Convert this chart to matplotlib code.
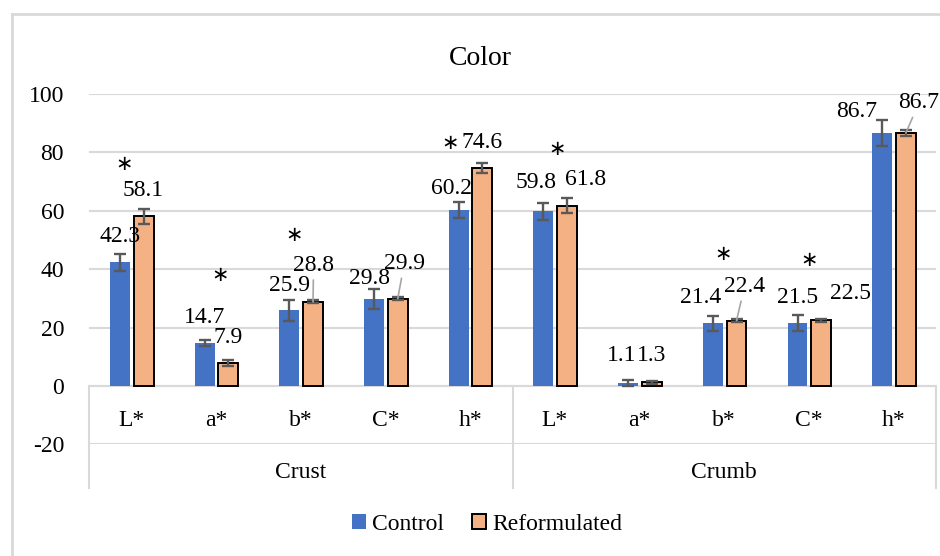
# Color of crust and crumb: control vs reformulated, Excel-style chart
import numpy as np
import matplotlib
matplotlib.use("Agg")
import matplotlib.pyplot as plt
from matplotlib.patches import Patch
from matplotlib.lines import Line2D

plt.rcParams['font.family'] = ['Liberation Serif', 'DejaVu Serif']
plt.rcParams['axes.unicode_minus'] = False

groups = ['Crust', 'Crumb']
attrs = ['L*', 'a*', 'b*', 'C*', 'h*']
control = [42.3, 14.7, 25.9, 29.8, 60.2, 59.8, 1.1, 21.4, 21.5, 86.7]
control_err = [2.8, 1.0, 3.5, 3.5, 2.8, 3.0, 1.0, 2.7, 2.7, 4.5]
reform = [58.1, 7.9, 28.8, 29.9, 74.6, 61.8, 1.3, 22.4, 22.5, 86.7]
reform_err = [2.6, 1.0, 0.5, 0.5, 1.7, 2.6, 0.5, 0.5, 0.5, 1.1]
signif = [True, True, True, False, True, True, False, True, True, False]

# label placement (pixels from bar top), copied from the manual layout
ctrl_off = [(0, 26), (0, 26), (0, 25), (-5, 20), (-7, 22),
            (-7.5, 28.7), (-6, 27), (-12, 25.6), (0, 25.3), (-26, 21.8)]
ref_off = [(-0.5, 26), (-0.5, 25), (0.5, 36.5), (6.5, 35), (-0.5, 26),
           (18, 26.4), (0, 26.7), (8, 34), (29, 27), (13, 30)]
ref_leader = [False, False, True, True, False, False, False, True, False, True]
star_off = [(-7, 52), (4, 67.7), (-7, 66.5), None, (-20, 25),
            (2, 57), None, (-1, 67), (0, 60), None]

blue = '#4472C4'
orange = '#F4B183'
grid_c = '#D9D9D9'
FS = 17

fig = plt.figure(figsize=(9.4, 5.56), dpi=100)
ax = fig.add_axes([89/940, 1 - 444.3/556, (936 - 89)/940, (444.3 - 94)/556])

n = len(control)
idx = np.arange(n)
w = 0.235
xc = idx - 0.135
xr = idx + 0.145

ax.bar(xc, control, w, color=blue, zorder=3)
ax.bar(xr, reform, w, color=orange, edgecolor='black', linewidth=1.4, zorder=3)
ekw = dict(fmt='none', ecolor='#595959', elinewidth=1.7, capsize=4, capthick=1.7, zorder=4)
ax.errorbar(xc, control, yerr=control_err, **ekw)
ax.errorbar(xr, reform, yerr=reform_err, **ekw)

ax.set_xlim(-0.5, n - 0.5)
ax.set_ylim(-20, 100)
ax.set_yticks(range(-20, 101, 20))
ax.set_xticks([])
ax.tick_params(axis='y', length=0, pad=18, labelsize=FS)
ax.grid(axis='y', color=grid_c, linewidth=1.5, zorder=0)
for s in ax.spines.values():
    s.set_visible(False)
ax.axhline(0, color=grid_c, linewidth=1.5, zorder=2)

# data labels
for i in range(n):
    ax.annotate(f'{control[i]:.1f}', xy=(xc[i], control[i]), xytext=ctrl_off[i],
                textcoords='offset pixels', ha='center', va='center', fontsize=FS, zorder=5)
    arrow = dict(arrowstyle='-', color='#A6A6A6', lw=1.2, shrinkA=1, shrinkB=0) if ref_leader[i] else None
    ax.annotate(f'{reform[i]:.1f}', xy=(xr[i], reform[i]), xytext=ref_off[i],
                textcoords='offset pixels', ha='center', va='center', fontsize=FS,
                arrowprops=arrow, zorder=5)
    if signif[i]:
        top = max(control[i], reform[i])
        ax.annotate('\u2217', xy=(idx[i], top), xytext=star_off[i],
                    textcoords='offset pixels', ha='center', va='center',
                    fontsize=15, family='DejaVu Sans', zorder=5)

# two-level category axis below zero
y_bot = -34.8
for xb in [-0.5, 4.5, 9.5]:
    ax.plot([xb, xb], [0, y_bot], color=grid_c, linewidth=1.5, clip_on=False, zorder=2)
for i in range(n):
    ax.text(idx[i], -11.8, attrs[i % 5], ha='center', va='center', fontsize=FS)
for g, name in enumerate(groups):
    ax.text(g * 5 + 2, -29.7, name, ha='center', va='center', fontsize=FS)

fig.text(480/940, 1 - 65/556, 'Color', ha='center', va='baseline', fontsize=20)

handles = [Patch(facecolor=blue, edgecolor='none', label='Control'),
           Patch(facecolor=orange, edgecolor='black', linewidth=1.4, label='Reformulated')]
fig.legend(handles=handles, loc='center', bbox_to_anchor=(487/940, 1 - 524/556),
           ncol=2, frameon=False, fontsize=FS, handlelength=0.6, handleheight=0.6,
           handletextpad=0.25, columnspacing=1.2)

# outer chart border
fig.add_artist(Line2D([12/940, 12/940], [-0.1, 1 - 14/556], color=grid_c, linewidth=2))
fig.add_artist(Line2D([12/940, 1.1], [1 - 14/556, 1 - 14/556], color=grid_c, linewidth=2))

fig.savefig('out.png', dpi=100)
